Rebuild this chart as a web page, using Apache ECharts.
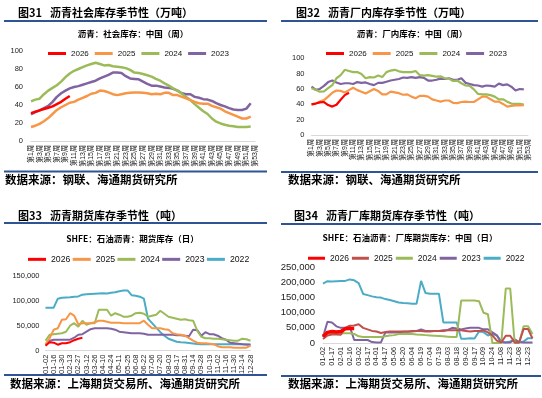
<!DOCTYPE html>
<html><head><meta charset="utf-8">
<script src="https://cdn.jsdelivr.net/npm/echarts@6/dist/echarts.min.js"></script>
<style>html,body{margin:0;padding:0;background:#fff}#c{width:542px;height:398px}</style>
</head><body><div id="c"></div>
<script>
// ---------- Data ----------
const weekLabels = Array.from({length:53},(_,i)=>'第'+(i+1)+'周');
// Fig31 social inventory (万吨), weekly
const soc2026 = [31,32.5,34,35.5,37,38.5,41,43.5,47,50];
const soc2025 = [15.5,17,19,22,25.5,30,34.5,37.5,40,42.5,43.5,46,48,50,52.5,53.5,56,55.5,54,52,51,52,53,53.5,54,54,53.5,53,52,52.5,52,53.5,53.5,51,51,49,47.5,45.5,43.5,42,41.5,41.5,39,37.5,36,33,31,29,27,25,25,27];
const soc2024 = [44,46,47,52,56,59,62,66,71,75,78,80,82,84,85.5,87,85.5,84,84.5,83,82.5,82,81,79,76,75.5,74.5,73,71.5,69,67,64,61.5,58.5,56,52.5,49,45.5,41,37,33,30,25,21.5,19.5,18,17,16.3,15.5,15.5,15.5,16];
const soc2023 = [29.5,32,34,36.5,39,43.5,49,53,56,58.5,60,61,62.5,64,65.5,67,69.5,71.5,73.5,76,76,75.5,72,69.5,69,68.5,66,63.5,61.5,61.5,60.5,59.5,59,58,56,53,52,52,49,48,46.5,46,44.5,42,40,38.5,36.5,35,34.5,34.5,36,42];
// Fig32 plant inventory (万吨), weekly
const fac2026 = [40,41,42.5,43,39,37,39.5,46,52,55];
const fac2025 = [40,41,43.5,45.5,50,55,58,57.5,55.5,58.5,61.5,58.5,56.5,54,57,60,57.5,53,53,56.5,55.5,54.5,52.5,53,50,48,51,51,50,46.5,45,43.5,45,45,42,41.5,43,43.5,43,43,46.5,50,50,46.5,43.5,43.5,40.5,37,38,38.5,38.5,39];
const fac2024 = [61,59,56.5,57,61,65,74,78,85,83.5,82,82,79.5,74,75.5,75,77.5,75.5,82,84,85,83,82,82,82,83.5,78,77.5,78,77,76,76.5,74,73.5,70.5,71,67.5,64.5,64,59.5,53.5,53,53,52,50,46.5,46.5,43.5,41,40.5,40.5,39.5];
const fac2023 = [63,59,60,64,69,71,68.5,66.5,67.5,67.5,66.5,69,68,68.5,66.5,65,68,68,69.5,71,72,73,75,74.5,75.5,74.5,75.5,74.5,71,71,72,73.5,73,74,72,72,74,68,66.5,65,64.5,63,64.5,64,63,67,65,66,63,58,60,59.5];
// Fig33 SHFE futures inventory (吨)
const futDates = ['01-02','01-09','01-16','01-23','01-30','02-06','02-13','02-20','02-27','03-05','03-12','03-19','03-26','04-02','04-10','04-17','04-24','05-04','05-11','05-18','05-25','06-01','06-08','06-15','06-22','06-29','07-06','07-13','07-20','07-27','08-03','08-10','08-17','08-24','08-31','09-07','09-14','09-21','09-28','10-12','10-19','10-26','11-02','11-09','11-16','11-23','11-30','12-07','12-14','12-21','12-28'];
const fut2026 = [10000,17000,16000,12000,15000,15000,17000,21000,24000,26000];
const fut2025 = [13000,25000,42000,45000,62000,63000,75000,70000,53000,55000,55000,55000,57000,60000,60000,58000,56000,56000,56000,55000,55000,55000,55000,55000,60000,52000,45000,45000,45000,43000,42000,35000,33000,32000,30000,25000,20000,16000,15000,15000,14000,13000,9000,7000,7000,7000,6000,6000,6000,6000,10000];
const fut2024 = [20000,32000,33000,34000,35000,38000,50000,55000,48000,60000,52000,55000,55000,82000,82000,82000,70000,75000,72000,68000,68000,70000,75000,76000,74000,68000,70000,72000,80000,74000,68000,66000,64000,62000,63000,61000,60000,40000,28000,25000,25000,24000,24000,23000,22000,21000,20000,20000,24000,23000,20000];
const fut2023 = [12000,20000,22000,22000,22000,22000,22000,26000,32000,33000,38000,43000,45000,45000,45000,45000,44000,42000,38000,37000,36000,35000,35000,35000,34000,32000,32000,32000,32000,32000,32000,32000,31000,31000,30000,29000,42000,41000,30000,37000,33000,33000,30000,25000,22000,16000,15000,14000,13000,12500,12000];
const fut2022 = [86000,86000,86000,104000,106000,106500,107000,108000,108500,112000,113000,113500,114000,114500,115000,114500,116000,117000,119000,120500,120500,111000,110000,108000,104000,64000,55000,46000,37000,30000,24000,21000,18000,17000,16500,15500,14500,13500,13000,13000,13000,13000,13000,13000,13000,13000,13000,13000,13000,12500,12500];
// Fig34 SHFE plant-warehouse futures inventory (吨)
const whDates = ['01-02','01-09','01-17','01-24','02-01','02-08','02-16','02-23','03-02','03-09','03-17','03-24','04-01','04-09','04-17','04-26','05-06','05-13','05-20','05-27','06-04','06-11','06-19','06-26','07-04','07-11','07-19','07-26','08-03','08-10','08-18','08-25','09-02','09-09','09-17','09-26','10-09','10-16','10-24','10-31','11-08','11-15','11-23','11-30','12-08','12-15','12-23','12-30'];
const wh2026 = [22000,35000,38000,36000,38000,47000,48000,48000];
const wh2025 = [13000,25000,28000,28000,27000,50000,57000,58000,62000,50000,45000,40000,38000,33000,36000,38000,38000,38000,38000,38000,40000,40000,40000,38000,38000,40000,40000,40000,42000,42000,42000,42000,40000,38000,40000,40000,42000,35000,25000,8000,2000,24000,24000,2000,2000,46000,46000,15000];
const wh2024 = [30000,32000,32000,32000,32000,32000,32000,30000,22000,20000,20000,20000,20000,20000,22000,25000,26000,30000,30000,30000,30000,28000,27000,26000,25000,24000,23000,22000,21000,20000,20000,140000,140000,140000,140000,138000,100000,95000,0,0,0,180000,180000,0,0,55000,55000,30000];
const wh2023 = [20000,70000,68000,55000,50000,50000,55000,10000,10000,10000,10000,3000,2000,2000,35000,35000,35000,35000,37000,37000,38000,40000,45000,40000,40000,40000,40000,42000,43000,50000,48000,45000,48000,50000,50000,50000,45000,45000,35000,25000,3000,2000,2000,12000,3000,2000,2000,2000];
const wh2022 = [196000,204000,203000,204000,205000,205000,210000,207000,198000,162000,158000,154000,151000,150000,145000,142000,138000,134000,132000,131000,130000,130000,205000,165000,163000,163000,163000,68000,68000,68000,68000,14000,14000,16000,15000,38000,36000,25000,30000,25000,3000,2000,5000,10000,3000,5000,16000,16000];

// ---------- Styles ----------
const C = {y26:'#FF0000', y25:'#F79646', y25b:'#C0504D', y24:'#9BBB59', y23:'#8064A2', y22:'#4BACC6'};
const FN = '"Liberation Sans", Arial, "Noto Sans CJK SC", sans-serif';
const FC = '"Noto Sans CJK SC", sans-serif';
const BLUE = '#2F5496';

function ser(name, data, color, g, w){
  return {type:'line', name:name, data:data, xAxisIndex:g, yAxisIndex:g, symbol:'none', showSymbol:false,
    lineStyle:{color:color, width:w}, itemStyle:{color:color}, emphasis:{disabled:true}};
}
function leg(left, top, items, gap, fs, iw){
  return {left:left, top:top, padding:0, icon:'rect', itemWidth:iw||18, itemHeight:3, itemGap:gap,
    textStyle:{fontSize:fs, color:'#111', fontFamily:FN},
    formatter:function(n){return n.split(':')[1];},
    data:items.map(function(it){return {name:it[0], itemStyle:{color:it[1]}};})};
}
function xax(g, data, fs){
  return {type:'category', gridIndex:g, data:data, boundaryGap:false,
    axisLine:{show:true, lineStyle:{color:'#d9d9d9', width:1}}, axisTick:{show:false}, splitLine:{show:false},
    axisLabel:{interval:1, rotate:90, fontSize:fs, color:'#222', margin:4, fontFamily:FN}};
}
function yax(g, max, iv, fs, m){
  return {type:'value', gridIndex:g, min:0, max:max, interval:iv,
    axisLine:{show:false}, axisTick:{show:false}, splitLine:{show:false},
    axisLabel:{fontSize:fs, color:'#222', margin:m, fontFamily:FN}};
}
function txt(x, y, s, font, align){
  return {type:'text', x:x, y:y, silent:true, style:{text:s, font:font, fill:'#000', textAlign:align||'left', textVerticalAlign:'middle', align:align||'left', verticalAlign:'middle'}};
}
function hl(x1, x2, y){
  return {type:'line', silent:true, shape:{x1:x1, y1:y, x2:x2, y2:y}, style:{stroke:BLUE, lineWidth:2}};
}
const TF = 'bold 11px '+FC, SF = 'bold 8.5px '+FC, DF = 'bold 11.5px '+FC;

const option = {
  animation:false,
  backgroundColor:'#fff',
  grid:[
    {left:31, top:51, width:224, height:90},
    {left:311.5, top:58.3, width:216.5, height:76.7},
    {left:45.5, top:275.7, width:205, height:75},
    {left:323, top:267.3, width:209.5, height:75.7}
  ],
  xAxis:[xax(0, weekLabels, 7), xax(1, weekLabels, 7), xax(2, futDates, 7.5), xax(3, whDates, 7.3)],
  yAxis:[yax(0,100,20,7.5,8), yax(1,100,20,7.5,7), yax(2,150000,50000,7.5,6), yax(3,250000,50000,9.5,8)],
  legend:[
    leg(48, 49.5, [['a:2026',C.y26],['a:2025',C.y25],['a:2024',C.y24],['a:2023',C.y23]], 5.9, 8),
    leg(326, 49.5, [['b:2026',C.y26],['b:2025',C.y25],['b:2024',C.y24],['b:2023',C.y23]], 5.9, 8),
    leg(28, 255, [['c:2026',C.y26],['c:2025',C.y25],['c:2024',C.y24],['c:2023',C.y23],['c:2022',C.y22]], 2.4, 8.7),
    leg(308, 254, [['d:2026',C.y26],['d:2025',C.y25b],['d:2024',C.y24],['d:2023',C.y23],['d:2022',C.y22]], 3, 8.5, 17)
  ],
  series:[
    ser('a:2023', soc2023, C.y23, 0, 2.5), ser('a:2024', soc2024, C.y24, 0, 2.5), ser('a:2025', soc2025, C.y25, 0, 2.5), ser('a:2026', soc2026, C.y26, 0, 2.5),
    ser('b:2023', fac2023, C.y23, 1, 2.2), ser('b:2024', fac2024, C.y24, 1, 2.2), ser('b:2025', fac2025, C.y25, 1, 2.2), ser('b:2026', fac2026, C.y26, 1, 2.2),
    ser('c:2022', fut2022, C.y22, 2, 2), ser('c:2023', fut2023, C.y23, 2, 2), ser('c:2024', fut2024, C.y24, 2, 2), ser('c:2025', fut2025, C.y25, 2, 2), ser('c:2026', fut2026, C.y26, 2, 2),
    ser('d:2022', wh2022, C.y22, 3, 2), ser('d:2023', wh2023, C.y23, 3, 2), ser('d:2024', wh2024, C.y24, 3, 2), ser('d:2025', wh2025, C.y25b, 3, 2), ser('d:2026', wh2026, C.y26, 3, 3.5)
  ],
  graphic:[
    txt(18, 12.7, '图31', TF), txt(50, 12.7, '沥青社会库存季节性（万吨）', TF),
    txt(296, 12.7, '图32', TF), txt(328, 12.7, '沥青厂内库存季节性（万吨）', TF),
    txt(18, 215.7, '图33', TF), txt(50, 215.7, '沥青期货库存季节性（吨）', TF),
    txt(294, 215.7, '图34', TF), txt(326, 215.7, '沥青厂库期货库存季节性（吨）', TF),
    hl(4, 267, 21), hl(281, 538, 21), hl(4, 267, 223), hl(281, 541, 224),
    hl(4, 267, 171.5), hl(281, 538, 172), hl(4, 267, 375), hl(281, 541, 376),
    txt(133, 34, '沥青：社会库存：中国（周）', SF, 'center'),
    txt(412, 34, '沥青：厂内库存：中国（周）', SF, 'center'),
    txt(132.5, 239, 'SHFE：石油沥青：期货库存（日）', SF, 'center'),
    txt(410, 238, 'SHFE：石油沥青：厂库期货库存：中国（日）', SF, 'center'),
    txt(5, 180, '数据来源：钢联、海通期货研究所', DF),
    txt(288, 180, '数据来源：钢联、海通期货研究所', DF),
    txt(10, 384, '数据来源：上海期货交易所、海通期货研究所', DF),
    txt(288, 384, '数据来源：上海期货交易所、海通期货研究所', DF)
  ]
};
const chart = echarts.init(document.getElementById('c'), null, {renderer:'canvas'});
chart.setOption(option);
</script></body></html>
